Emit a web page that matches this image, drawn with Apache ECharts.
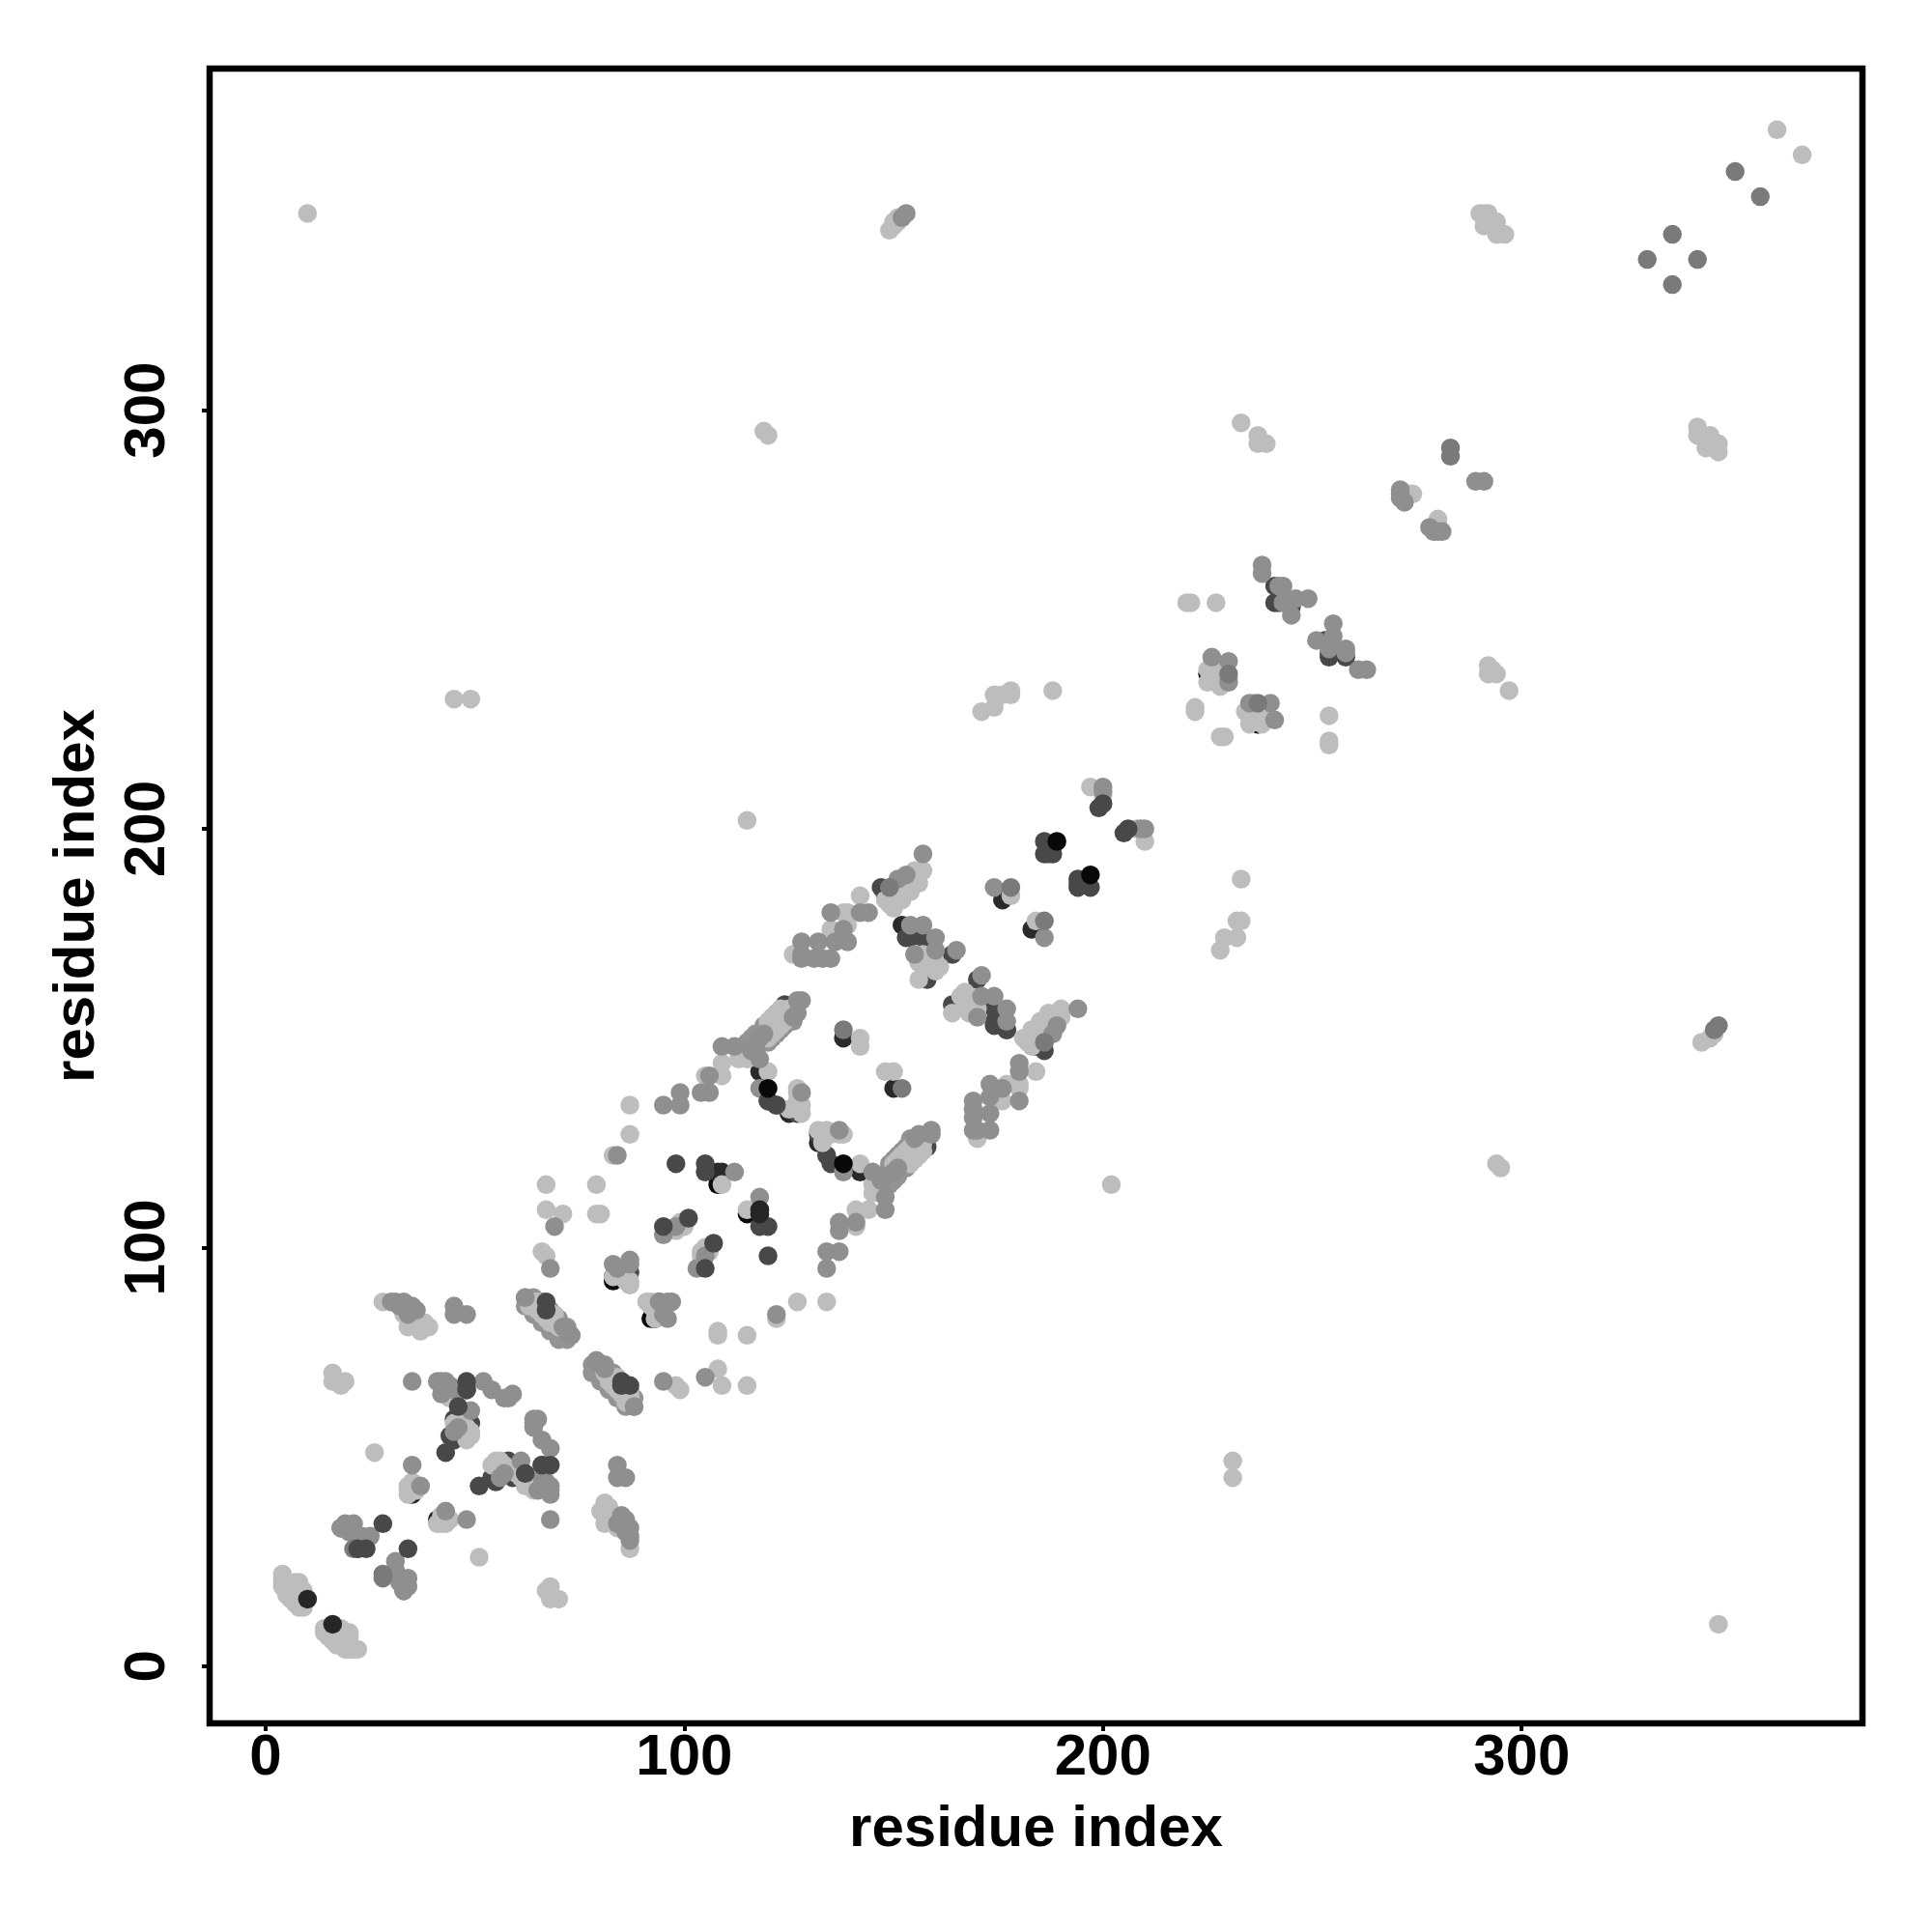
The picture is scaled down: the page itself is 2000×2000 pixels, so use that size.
<!DOCTYPE html>
<html>
<head>
<meta charset="utf-8">
<style>html,body{margin:0;padding:0;background:#fff}#c{width:2000px;height:2000px}</style>
<script src="https://cdn.jsdelivr.net/npm/echarts@6/dist/echarts.min.js"></script>
</head>
<body>
<div id="c"></div>
<script>
const tickValues = [0, 100, 200, 300];
const axisTitle = 'residue index';

// contacts, one array per grey level, in drawing order (bottom to top)
const underBlack = [[108,115],[115,108],[83,93],[93,83],[92,83],[83,92],[225,237],[237,225]];
const underVeryDark = [[152,177],[177,152],[118,142],[142,118],[108,118],[109,118],[118,108],[118,109],[237,226],[226,237],[177,184],[184,177],[183,176],[176,183],[125,132],[132,125],[138,150],[150,138],[42,35],[35,42],[35,41],[41,35],[43,35],[35,43],[6,18],[18,6],[17,9],[9,17]];
const underDark = [[87,94],[94,87],[33,18],[18,33],[154,174],[174,154],[157,174],[174,157],[158,170],[170,158],[158,164],[164,158],[164,170],[170,164],[174,153],[153,174],[177,152],[241,258],[258,241],[241,254],[254,241],[245,253],[253,245],[254,245],[245,254],[254,242],[242,254],[45,59],[59,45],[46,60],[60,46],[49,58],[58,49],[48,66],[66,48],[45,54],[54,45],[55,44],[44,55],[132,127],[127,132],[134,122],[122,134],[135,120],[120,135],[148,184],[184,148],[126,157],[157,126],[124,158],[158,124],[147,186],[186,147]];
const underMid = [[20,5],[5,20],[64,85],[65,84],[66,83],[67,82],[68,81],[69,80],[70,79],[71,79],[72,78],[85,64],[84,65],[83,66],[82,67],[81,68],[80,69],[79,70],[79,71],[78,72],[63,87],[87,63],[62,88],[88,62],[64,88],[88,64],
[62,86],[64,84],[66,82],[68,80],[70,78],[86,62],[84,64],[82,66],[80,68],[78,70],
[66,87],[68,85],[70,83],[72,81],[87,66],[85,68],[83,70],[81,72],
[113,147],[114,146],[115,147],[116,148],[117,149],[118,149],[119,150],[120,151],[121,152],[122,153],[123,154],[124,155],[147,113],[146,114],[147,115],[148,116],[149,117],[149,118],[150,119],[151,120],[152,121],[153,122],[154,123],[155,124],
[114,148],[115,149],[116,150],[117,151],[118,151],[119,153],[148,114],[149,115],[150,116],[151,117],[151,118],[153,119],
[119,149],[120,149],[121,150],[122,151],[123,152],[124,153],[125,154],[126,154],[149,119],[149,120],[150,121],[151,122],[152,123],[153,124],[154,125],[154,126]];
const lightDots = [[4,22],[4,21],[4,20],[4,19],[5,18],[5,17],[6,16],[7,15],[8,14],[9,14],[7,20],[8,20],[7,19],[8,19],[9,18],
[22,4],[21,4],[20,4],[19,4],[18,5],[17,5],[16,6],[15,7],[14,8],[14,9],[20,7],[20,8],[19,7],[19,8],[18,9],
[16,70],[16,68],[19,68],[18,67],[70,16],[68,16],[68,19],[67,18],[26,51],[51,26],[28,87],[87,28],
[36,83],[39,81],[37,80],[35,84],[38,82],[33,84],[34,81],[83,36],[81,39],[80,37],[84,35],[82,38],[84,33],[81,34],
[34,43],[36,42],[34,41],[36,43],[35,44],[34,42],[43,34],[42,36],[41,34],[43,36],[44,35],[42,34],
[42,67],[44,64],[46,66],[45,64],[49,56],[48,54],[49,55],[45,58],[47,58],[48,57],[55,49],[54,48],[56,49],[63,44],[64,44],[60,46],[61,45],[57,48],[64,42],[62,43],
[65,87],[64,86],[64,87],[63,86],[65,85],[66,84],[67,83],[69,84],[68,82],[70,81],[87,65],[86,64],[87,64],[86,63],[85,65],[84,66],[83,67],[84,69],[82,68],[81,70],
[66,99],[67,98],[67,109],[71,108],[67,115],[79,108],[80,108],[79,115],[99,66],[98,67],[109,67],[108,71],[115,67],[108,79],[108,80],[115,79],
[83,122],[87,134],[87,127],[122,83],[134,87],[127,87],
[92,86],[93,85],[94,84],[93,83],[86,92],[85,93],[84,94],[83,93],[87,92],[87,91],[86,93],[85,95],[92,87],[91,87],[93,86],[95,85],
[98,104],[99,106],[100,105],[104,98],[104,99],[105,100],[106,99],
[105,141],[109,141],[109,144],[113,145],[115,145],[141,105],[141,109],[144,109],[145,113],[145,115],
[115,109],[109,115],[120,142],[142,120],[127,138],[138,127],[125,133],[133,125],[128,134],[134,128],[127,135],[135,127],[137,127],[132,128],[134,127],[127,137],[128,132],[127,134],
[142,150],[142,148],[150,142],[148,142],
[120,152],[121,153],[122,154],[123,155],[124,156],[125,157],[120,150],[121,151],[122,152],[123,153],[124,154],[125,155],[126,156],[120,154],[121,155],[122,156],[123,157],
[152,120],[153,121],[154,122],[155,123],[156,124],[157,125],[150,120],[151,121],[152,122],[153,123],[154,124],[155,125],[156,126],[154,120],[155,121],[156,122],[157,123],
[148,183],[149,182],[150,183],[151,184],[152,185],[153,186],[154,187],[155,188],[156,189],[157,190],[155,190],[153,188],[151,186],[150,185],[150,181],[152,183],[154,185],[156,187],
[183,148],[182,149],[183,150],[184,151],[185,152],[186,153],[187,154],[188,155],[189,156],[190,157],[190,155],[188,153],[186,151],[185,150],[181,150],[183,152],[185,154],[187,156],
[142,184],[138,180],[135,176],[139,177],[136,175],[126,170],[184,142],[180,138],[176,135],[177,139],[175,136],[170,126],[180,139],[139,180],
[160,166],[156,164],[158,167],[160,168],[159,169],[157,170],[161,167],[156,168],[166,160],[164,156],[167,158],[168,160],[169,159],[170,157],[167,161],[168,156],
[178,184],[184,178],[197,210],[200,208],[210,197],[208,200],
[220,254],[221,254],[227,254],[254,220],[254,221],[254,227],[222,229],[222,228],[228,222],[229,222],
[225,238],[226,236],[227,235],[228,234],[226,238],[228,236],[225,235],[226,239],[229,235],[230,236],
[238,225],[236,226],[235,227],[234,228],[238,226],[236,228],[235,225],[239,226],[235,229],[236,230],
[233,188],[232,178],[233,178],[232,174],[229,174],[228,171],[188,233],[178,232],[178,233],[174,232],[174,229],[171,228],[176,232],
[115,202],[202,115],[45,231],[49,231],[231,45],[231,49],[119,295],[120,294],[295,119],[294,120],
[233,297],[237,294],[237,292],[239,292],[297,233],[294,237],[292,237],[292,239],[293,238],
[342,296],[342,294],[345,294],[344,291],[347,292],[347,290],[346,291],[296,342],[294,342],[294,345],[291,344],[292,347],[290,347],[291,347],
[10,347],[347,10],[361,367],[367,361],[149,343],[150,344],[151,345],[150,345],[151,346],[343,149],[345,150],[346,151],
[273,280],[274,280],[280,273],[280,274]];
const midDots = [[31,87],[33,87],[32,86],[30,87],[35,86],[36,85],[34,84],[87,31],[87,33],[86,32],[87,30],[86,35],[85,36],[84,34],
[45,86],[45,84],[48,84],[86,45],[84,45],[84,48],[35,68],[68,35],[41,68],[43,68],[42,65],[44,67],[52,68],[54,66],[57,64],[59,65],[64,59],[68,41],[68,43],[65,42],[67,44],[68,52],[66,54],[64,57],[65,59],[64,58],[58,64],
[49,61],[61,49],[45,56],[56,45],[57,46],[46,57],[66,45],[45,66],[68,42],[42,68],[35,48],[48,35],[37,43],[43,37],
[18,33],[19,34],[21,34],[21,32],[22,31],[25,31],[20,32],[33,18],[34,19],[34,21],[32,21],[31,22],[31,25],[32,20],[31,23],[23,31],
[73,79],[72,80],[71,81],[79,73],[80,72],[81,71],[88,62],[62,88],
[68,95],[95,68],[69,105],[105,69],[87,97],[97,87],[83,96],[96,83],[96,87],[87,96],[95,84],[84,95],[94,87],
[84,122],[122,84],[95,134],[134,95],[99,137],[137,99],[99,134],[134,99],[106,141],[141,106],[104,137],[137,104],[106,137],[137,106],[109,148],[148,109],[112,148],[148,112],[118,145],[145,118],[118,138],[138,118],[128,137],[137,128],
[112,118],[118,112],[95,103],[103,95],[105,98],[98,105],
[116,147],[117,148],[118,150],[119,151],[147,116],[148,117],[150,118],[151,119],
[128,159],[127,159],[127,156],[126,155],[159,128],[159,127],[156,127],[155,126],
[142,180],[144,180],[135,180],[138,176],[139,173],[136,173],[132,173],[133,169],[135,169],[131,169],[128,173],[128,170],[128,169],[180,142],[180,144],[180,135],[176,138],[173,139],[173,136],[173,132],[169,133],[169,135],[169,131],[173,128],[170,128],[169,128],
[157,194],[194,157],[151,188],[153,189],[188,151],[189,153],
[154,177],[157,177],[160,174],[160,171],[165,171],[155,170],[177,154],[177,157],[174,160],[171,160],[171,165],[170,155],[186,174],[174,186],[200,210],[210,200],[209,200],[200,209],
[238,263],[238,261],[263,238],[261,238],[242,258],[258,242],[243,254],[254,243],[246,255],[255,246],[249,255],[255,249],[245,251],[251,245],[243,258],[258,243],
[226,241],[241,226],[230,240],[240,230],[230,235],[235,230],
[271,280],[280,271],[272,278],[278,272],[279,271],[271,279],[281,271],[271,281],[289,283],[291,283],[153,347],[152,346]];
const dimDots = [[28,21],[28,22],[21,28],[22,28],[152,138],[138,152],[186,178],[178,186],[149,186],[186,149],[187,194],[194,187],[230,237],[237,230],[283,291],[283,289],
[347,153],[346,152],[351,357],[357,351],[336,342],[330,336],[342,336],[336,330]];
const topDark = [[28,34],[34,28],[43,51],[51,43],[46,62],[62,46],[48,68],[68,48],[66,48],[48,66],[67,87],[67,85],[85,67],[85,68],[87,67],[22,28],[24,28],
[98,120],[120,98],[105,120],[105,118],[120,105],[118,105],[107,101],[101,107],[105,95],[95,105],[120,135],[122,134],
[199,205],[205,199],[200,206],[206,200],[186,197],[197,186],[186,194],[194,186],[188,194],[194,188]];
const topVeryDark = [[16,10],[10,16],[118,109],[118,108]];
const topBlack = [[120,138],[138,120],[189,197],[197,189]];

const layers = [
  [underBlack, '#0a0a0a'], [underVeryDark, '#2a2a2a'], [underDark, '#484848'], [underMid, '#939393'],
  [lightDots, '#bdbdbd'], [midDots, '#8f8f8f'], [dimDots, '#7a7a7a'],
  [topDark, '#484848'], [topVeryDark, '#262626'], [topBlack, '#080808']
];

const labelFont = {fontFamily: '"Liberation Sans"', fontWeight: 'bold', fontSize: 60, color: '#000'};
const tickStyle = {customValues: tickValues, length: 8, lineStyle: {color: '#000', width: 4}};

const chart = echarts.init(document.getElementById('c'), null, {renderer: 'canvas'});
chart.setOption({
  animation: false,
  backgroundColor: '#fff',
  grid: {left: 217, top: 71, width: 1711, height: 1713, show: true, borderColor: '#000', borderWidth: 6.5, backgroundColor: '#fff'},
  xAxis: {
    type: 'value', min: -13.38, max: 381.4, splitLine: {show: false},
    axisLine: {show: false, onZero: false}, axisTick: tickStyle,
    axisLabel: {...labelFont, customValues: tickValues, margin: 6},
    name: axisTitle, nameLocation: 'middle', nameGap: 80, nameTextStyle: labelFont
  },
  yAxis: {
    type: 'value', min: -13.68, max: 381.6, splitLine: {show: false},
    axisLine: {show: false, onZero: false}, axisTick: tickStyle,
    axisLabel: {...labelFont, customValues: tickValues, rotate: 90, margin: 34},
    name: axisTitle, nameLocation: 'middle', nameGap: 107, nameTextStyle: labelFont
  },
  series: layers.map(([points, color]) => ({
    type: 'scatter', data: points, symbol: 'circle', symbolSize: 19.5,
    itemStyle: {color: color, opacity: 1}, silent: true, clip: false
  }))
});
</script>
</body>
</html>
